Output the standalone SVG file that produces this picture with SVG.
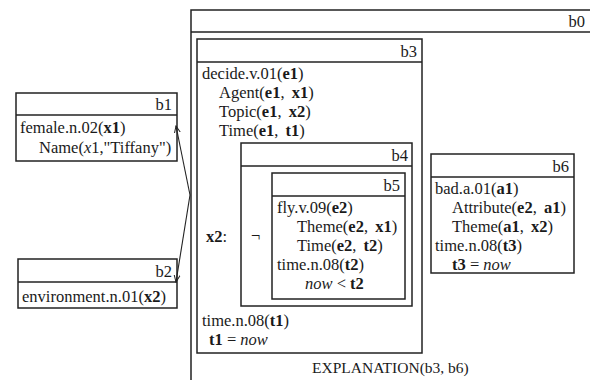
<svg xmlns="http://www.w3.org/2000/svg" width="590" height="380" viewBox="0 0 590 380">
<style>
text{font-family:"Liberation Serif","Times New Roman",serif;font-size:16.5px;fill:#1a1a1a}
.lbl{text-anchor:end}
.b{font-weight:bold}
.i{font-style:italic}
.box{fill:none;stroke:#222;stroke-width:1.5}
.conn{fill:none;stroke:#222;stroke-width:1.1}
.ex{font-size:15.5px}
</style>
<defs>
<marker id="ah" markerWidth="8" markerHeight="8" refX="7" refY="4" orient="auto" markerUnits="userSpaceOnUse">
<path d="M0,1 L7,4 L0,7" fill="none" stroke="#222" stroke-width="1"/>
</marker>
</defs>

<g id="b0">
<path class="box" d="M592,10 H191 V380" stroke-width="2"/>
<line class="box" x1="191" y1="32" x2="592" y2="32"/>
<text class="lbl" x="585" y="27">b0</text>
<text class="ex" x="312" y="373">EXPLANATION(b3, b6)</text>
</g>

<g id="b1">
<rect class="box" x="16" y="93" width="161" height="68"/>
<line class="box" x1="16" y1="115" x2="177" y2="115"/>
<text class="lbl" x="172" y="110">b1</text>
<text x="20" y="133">female.n.02(<tspan class="b">x1</tspan>)</text>
<text x="39" y="153">Name(<tspan class="i">x</tspan>1,"Tiffany")</text>
</g>

<g id="b2">
<rect class="box" x="18" y="259" width="159" height="49"/>
<line class="box" x1="18" y1="282" x2="177" y2="282"/>
<text class="lbl" x="172" y="277">b2</text>
<text x="22" y="302">environment.n.01(<tspan class="b">x2</tspan>)</text>
</g>

<g id="b3">
<rect class="box" x="197" y="39" width="225" height="314"/>
<line class="box" x1="197" y1="62" x2="422" y2="62"/>
<text class="lbl" x="417" y="57">b3</text>
<text x="202" y="79">decide.v.01(<tspan class="b">e1</tspan>)</text>
<text x="219" y="98">Agent(<tspan class="b">e1</tspan>, <tspan class="b" dx="3">x1</tspan>)</text>
<text x="219" y="117">Topic(<tspan class="b">e1</tspan>, <tspan class="b" dx="3">x2</tspan>)</text>
<text x="219" y="136">Time(<tspan class="b">e1</tspan>, <tspan class="b" dx="3">t1</tspan>)</text>
<text x="206" y="242"><tspan class="b">x2</tspan>:</text>
<text x="202" y="326">time.n.08(<tspan class="b">t1</tspan>)</text>
<text x="209" y="345"><tspan class="b">t1</tspan> = <tspan class="i">now</tspan></text>
</g>

<g id="b4">
<rect class="box" x="241" y="143" width="171" height="163"/>
<line class="box" x1="241" y1="166" x2="412" y2="166"/>
<text class="lbl" x="408" y="161">b4</text>
<text x="251" y="241">¬</text>
</g>

<g id="b5">
<rect class="box" x="272" y="173" width="133" height="126"/>
<line class="box" x1="272" y1="196" x2="405" y2="196"/>
<text class="lbl" x="400" y="191">b5</text>
<text x="277" y="213">fly.v.09(<tspan class="b">e2</tspan>)</text>
<text x="297" y="232">Theme(<tspan class="b">e2</tspan>, <tspan class="b" dx="3">x1</tspan>)</text>
<text x="297" y="251">Time(<tspan class="b">e2</tspan>, <tspan class="b" dx="3">t2</tspan>)</text>
<text x="277" y="270">time.n.08(<tspan class="b">t2</tspan>)</text>
<text x="305" y="289"><tspan class="i">now</tspan> &lt; <tspan class="b">t2</tspan></text>
</g>

<g id="b6">
<rect class="box" x="431" y="154" width="143" height="119"/>
<line class="box" x1="431" y1="177" x2="574" y2="177"/>
<text class="lbl" x="569" y="172">b6</text>
<text x="435" y="194">bad.a.01(<tspan class="b">a1</tspan>)</text>
<text x="452" y="213">Attribute(<tspan class="b">e2</tspan>, <tspan class="b" dx="3">a1</tspan>)</text>
<text x="452" y="232">Theme(<tspan class="b">a1</tspan>, <tspan class="b" dx="3">x2</tspan>)</text>
<text x="435" y="251">time.n.08(<tspan class="b">t3</tspan>)</text>
<text x="452" y="270"><tspan class="b">t3</tspan> = <tspan class="i">now</tspan></text>
</g>

<g id="connectors">
<line class="conn" x1="190" y1="195" x2="176" y2="126" marker-end="url(#ah)"/>
<line class="conn" x1="190" y1="195" x2="176" y2="282" marker-end="url(#ah)"/>
</g>
</svg>
